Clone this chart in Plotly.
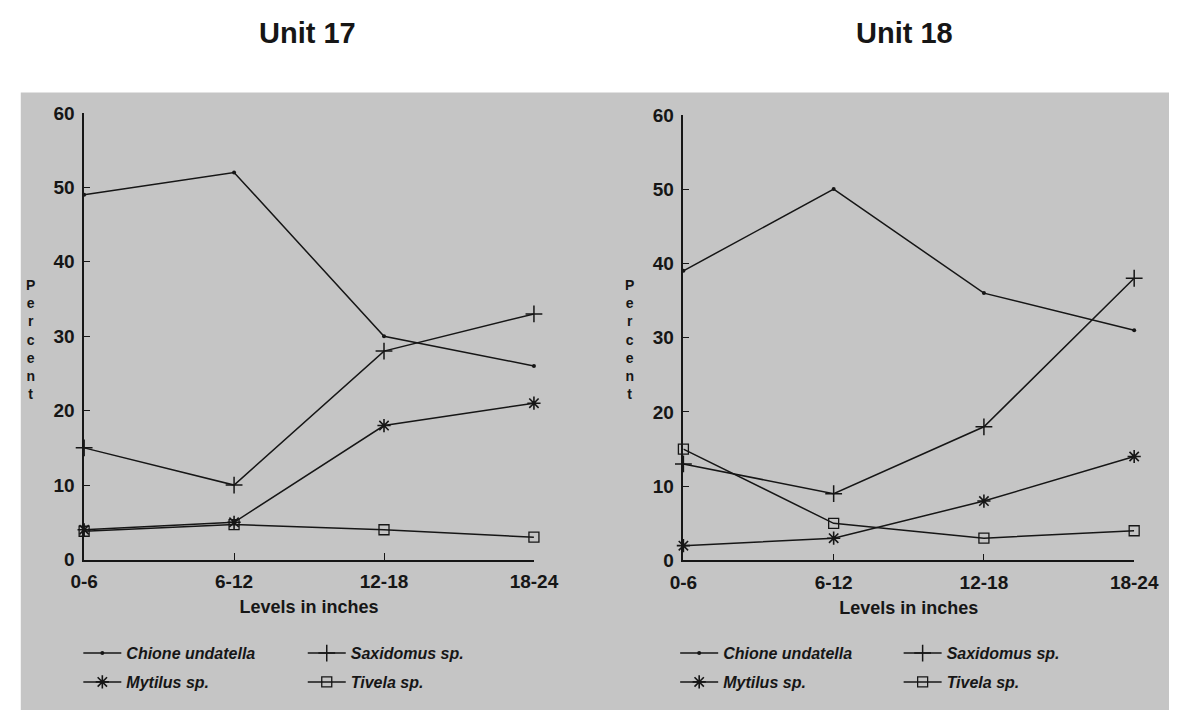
import plotly.graph_objects as go

levels = ["0-6", "6-12", "12-18", "18-24"]
species = ["Chione undatella", "Mytilus sp.", "Saxidomus sp.", "Tivela sp."]

unit17_chione = [49, 52, 30, 26]
unit17_mytilus = [4, 5, 18, 21]
unit17_saxidomus = [15, 10, 28, 33]
unit17_tivela = [3.8, 4.7, 4, 3]

unit18_chione = [39, 50, 36, 31]
unit18_mytilus = [2, 3, 8, 14]
unit18_saxidomus = [13, 9, 18, 38]
unit18_tivela = [15, 5, 3, 4]

titles = ["Unit 17", "Unit 18"]
y_ticks = [0, 10, 20, 30, 40, 50, 60]

INK = "#161616"
BG = "#c5c5c5"
FONT = "Liberation Sans, Arial, Helvetica, sans-serif"

styles = {
    "Chione undatella": dict(symbol="circle", size=4, color=INK, line=dict(width=0)),
    "Mytilus sp.": dict(symbol="asterisk", size=11, color=INK, line=dict(width=1.6, color=INK)),
    "Saxidomus sp.": dict(symbol="cross-thin", size=12, color=INK, line=dict(width=1.5, color=INK)),
    "Tivela sp.": dict(symbol="square-open", size=10, color=INK, line=dict(width=1.3, color=INK)),
}

fig = go.Figure()

panels = [
    ("x", "y", {"Chione undatella": unit17_chione, "Mytilus sp.": unit17_mytilus,
                "Saxidomus sp.": unit17_saxidomus, "Tivela sp.": unit17_tivela},
     ("legend", "legend2")),
    ("x2", "y2", {"Chione undatella": unit18_chione, "Mytilus sp.": unit18_mytilus,
                  "Saxidomus sp.": unit18_saxidomus, "Tivela sp.": unit18_tivela},
     ("legend3", "legend4")),
]

for p, (xa, ya, data, legs) in enumerate(panels):
    for name in species:
        leg = legs[0] if name in ("Chione undatella", "Mytilus sp.") else legs[1]
        fig.add_trace(go.Scatter(
            x=levels, y=data[name], name=name, mode="lines+markers",
            xaxis=xa, yaxis=ya, legend=leg, legendgroup=f"{p}-{name}",
            line=dict(color=INK, width=1.5),
            marker=styles[name], cliponaxis=False, hoverinfo="skip",
        ))

axis_common_x = dict(
    type="category", range=[0, 3], showline=True, linecolor=INK, linewidth=1.5,
    ticks="inside", ticklen=7, tickwidth=1.3, tickcolor=INK, showgrid=False,
    zeroline=False, tickfont=dict(family=FONT, size=19, color=INK, weight="bold"),
    ticklabelstandoff=4,
    title=dict(text="Levels in inches", standoff=9,
               font=dict(family=FONT, size=18, color=INK, weight="bold")),
)
axis_common_y = dict(
    range=[0, 60], tickvals=y_ticks, showline=True, linecolor=INK, linewidth=1.5,
    ticks="inside", ticklen=6, tickwidth=1.3, tickcolor=INK, showgrid=False,
    zeroline=False, tickfont=dict(family=FONT, size=19, color=INK, weight="bold"),
    ticklabelstandoff=4,
)

W, H = 1194, 721
fig.update_layout(
    autosize=True, margin=dict(l=0, r=0, t=0, b=0),
    paper_bgcolor="white", plot_bgcolor="rgba(0,0,0,0)",
    xaxis=dict(domain=[72.5 / W, 537.5 / W], anchor="y", **axis_common_x),
    yaxis=dict(domain=[1 - 566 / H, 1 - 106 / H], anchor="x", **axis_common_y),
    xaxis2=dict(domain=[692 / W, 1158 / W], anchor="y2", **axis_common_x),
    yaxis2=dict(domain=[1 - 567 / H, 1 - 108 / H], anchor="x2", **axis_common_y),
    shapes=[dict(type="rect", xref="paper", yref="paper", x0=7 / W, x1=1, y0=0, y1=1 - 85 / H,
                 fillcolor=BG, line=dict(width=0), layer="below")],
)

leg_font = dict(family=FONT, size=16, color=INK, weight="bold", style="italic")
for key, xl in [("legend", 66.5), ("legend2", 298.5), ("legend3", 683.5), ("legend4", 914.5)]:
    fig.update_layout({key: dict(x=xl / W, y=1 - 645 / H, xanchor="left", yanchor="top",
                                 orientation="v", bgcolor="rgba(0,0,0,0)", borderwidth=0,
                                 font=leg_font, tracegroupgap=5, itemwidth=38)})

annotations = []
for t, cx in zip(titles, [303, 921]):
    annotations.append(dict(text=t, x=cx / W, y=1 - 24 / H, xref="paper", yref="paper",
                            showarrow=False, xanchor="center", yanchor="middle",
                            font=dict(family=FONT, size=29, color=INK, weight="bold")))
for cx in [17, 636]:
    annotations.append(dict(text="<br>".join(list("Percent")), x=cx / W, y=1 - 339 / H,
                            xref="paper", yref="paper", showarrow=False,
                            xanchor="center", yanchor="middle",
                            font=dict(family=FONT, size=14, color=INK, weight="bold")))
fig.update_layout(annotations=annotations)

page_css = ("var s=document.createElement('style');"
            "s.textContent='html,body{margin:0!important;padding:0!important;overflow:hidden;}';"
            "document.head.appendChild(s);"
            "window.dispatchEvent(new Event('resize'));")
fig.write_html("out.html", default_width="100vw", default_height="100vh",
               config={"displayModeBar": False, "responsive": True},
               post_script=page_css)
